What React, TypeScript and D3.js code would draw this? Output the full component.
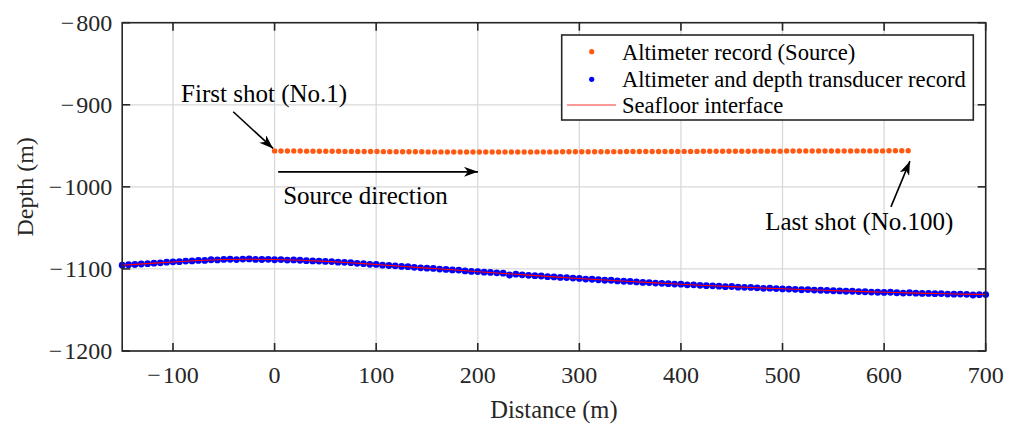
import { useEffect, useRef } from 'react';
import * as d3 from 'd3';

// x ticks / y ticks
const xTicks = [-100, 0, 100, 200, 300, 400, 500, 600, 700];
const yTicks = [-800, -900, -1000, -1100, -1200];

// Source altimeter record: 100 shots starting at 0 m, ~6.3 m apart
const shotStart = 0;
const shotStep = 6.3;
const sourceDepth = [
  -956.2, -956.3, -956.3, -956.4, -956.4, -956.5, -956.5, -956.6, -956.6, -956.7,
  -956.7, -956.8, -956.8, -956.9, -956.9, -957.0, -957.0, -957.1, -957.1, -957.2,
  -957.2, -957.3, -957.3, -957.3, -957.4, -957.4, -957.4, -957.5, -957.5, -957.5,
  -957.6, -957.6, -957.6, -957.6, -957.6, -957.6, -957.6, -957.5, -957.5, -957.5,
  -957.5, -957.4, -957.4, -957.4, -957.4, -957.3, -957.3, -957.3, -957.2, -957.2,
  -957.2, -957.2, -957.1, -957.1, -957.1, -957.0, -957.0, -957.0, -957.0, -956.9,
  -956.9, -956.9, -956.9, -956.8, -956.8, -956.8, -956.8, -956.7, -956.7, -956.7,
  -956.7, -956.6, -956.6, -956.6, -956.6, -956.5, -956.5, -956.5, -956.5, -956.5,
  -956.4, -956.4, -956.4, -956.4, -956.4, -956.3, -956.3, -956.3, -956.3, -956.3,
  -956.3, -956.2, -956.2, -956.2, -956.2, -956.2, -956.1, -956.1, -956.1, -956.0,
];

// Altimeter + depth transducer record, -150 m to 700 m every 6.25 m
const recStart = -150;
const recStep = 6.25;
const recordDepth = [
  -1095.5, -1094.8, -1094.6, -1094.0, -1093.6, -1093.0, -1092.6, -1091.8,
  -1091.4, -1091.2, -1090.4, -1090.2, -1089.6, -1089.6, -1088.8, -1089.0,
  -1088.4, -1088.2, -1088.6, -1088.0, -1087.8, -1088.4, -1088.5, -1088.3,
  -1088.8, -1088.6, -1089.2, -1089.0, -1089.4, -1089.9, -1090.2, -1090.4,
  -1090.9, -1091.0, -1091.8, -1092.0, -1092.4, -1093.2, -1093.6, -1094.4,
  -1094.5, -1095.4, -1095.8, -1096.2, -1096.9, -1097.2, -1098.0, -1098.6,
  -1099.1, -1099.4, -1100.2, -1100.6, -1101.2, -1101.4, -1102.4, -1103.0,
  -1103.2, -1104.0, -1104.3, -1104.8, -1105.2, -1107.4, -1106.4, -1107.2,
  -1107.8, -1108.2, -1108.6, -1109.4, -1109.8, -1110.4, -1110.6, -1111.2,
  -1111.6, -1112.4, -1112.6, -1113.2, -1113.8, -1113.8, -1114.6, -1115.0,
  -1115.2, -1115.8, -1116.4, -1116.6, -1117.2, -1117.6, -1118.0, -1118.4,
  -1118.6, -1119.4, -1119.4, -1120.0, -1120.4, -1120.6, -1121.0, -1121.6,
  -1121.4, -1122.2, -1122.4, -1122.6, -1123.0, -1123.6, -1123.4, -1124.0,
  -1124.4, -1124.6, -1124.8, -1125.4, -1125.2, -1125.8, -1126.0, -1126.2,
  -1126.6, -1126.8, -1127.2, -1127.2, -1127.6, -1127.8, -1128.2, -1128.4,
  -1128.6, -1128.4, -1129.0, -1129.4, -1129.0, -1129.6, -1129.8, -1129.8,
  -1130.2, -1130.0, -1130.6, -1130.8, -1130.6, -1131.0, -1131.8, -1131.4,
  -1131.2,
];

// Seafloor interface (smooth), every 25 m
const seafloorX = [
  -150, -125, -100, -75, -50, -25, 0, 25, 50, 75, 100, 125, 150, 175, 200, 225, 250, 275,
  300, 325, 350, 375, 400, 425, 450, 475, 500, 525, 550, 575, 600, 625, 650, 675, 700,
];
const seafloorDepth = [
  -1095.5, -1093.5, -1091.5, -1089.8, -1088.6, -1088.2, -1088.6, -1089.5, -1090.8, -1092.5,
  -1094.6, -1096.8, -1099.0, -1101.0, -1103.4, -1105.5, -1107.6, -1109.7, -1111.7, -1113.5,
  -1115.3, -1117.0, -1118.7, -1120.2, -1121.6, -1122.9, -1124.2, -1125.3, -1126.4, -1127.4,
  -1128.4, -1129.2, -1130.0, -1130.7, -1131.2,
];

const legendLabels = [
  'Altimeter record (Source)',
  'Altimeter and depth transducer record',
  'Seafloor interface',
];

const ORANGE = '#ff5a14';
const BLUE = '#0000ff';
const RED = '#ff0000';
const AXIS = '#262626';
const FONT = "'Liberation Serif', 'DejaVu Serif', serif";

export default function App() {
  const svgRef = useRef<SVGSVGElement | null>(null);

  useEffect(() => {
    if (!svgRef.current) return;
    const width = 1019;
    const height = 424;
    const svg = d3.select(svgRef.current);
    svg.selectAll('*').remove();
    svg.attr('width', width).attr('height', height);

    const x = d3.scaleLinear().domain([-150, 700]).range([122.2, 985.7]);
    const y = d3.scaleLinear().domain([-1200, -800]).range([351, 22.7]);
    const [x0, x1] = x.range();
    const [yb, yt] = y.range();

    // arrowhead
    const defs = svg.append('defs');
    defs.append('marker')
      .attr('id', 'arrow')
      .attr('viewBox', '0 0 14 10')
      .attr('refX', 14)
      .attr('refY', 5)
      .attr('markerWidth', 14)
      .attr('markerHeight', 10)
      .attr('markerUnits', 'userSpaceOnUse')
      .attr('orient', 'auto')
      .append('path')
      .attr('d', 'M0,0 L14,5 L0,10 L4,5 Z')
      .attr('fill', '#000');

    // grid
    const grid = svg.append('g');
    grid.selectAll('line.gx')
      .data(xTicks)
      .join('line')
      .attr('x1', d => x(d)).attr('x2', d => x(d))
      .attr('y1', yb).attr('y2', yt)
      .attr('stroke', '#d9d9d9').attr('stroke-width', 1.3);
    grid.selectAll('line.gy')
      .data(yTicks)
      .join('line')
      .attr('class', 'gy')
      .attr('x1', x0).attr('x2', x1)
      .attr('y1', d => y(d)).attr('y2', d => y(d))
      .attr('stroke', '#d9d9d9').attr('stroke-width', 1.3);

    // source dots
    svg.append('g')
      .selectAll('circle')
      .data(sourceDepth)
      .join('circle')
      .attr('cx', (d, i) => x(shotStart + i * shotStep))
      .attr('cy', d => y(d))
      .attr('r', 2.7)
      .attr('fill', ORANGE);

    // record dots
    svg.append('g')
      .selectAll('circle')
      .data(recordDepth)
      .join('circle')
      .attr('cx', (d, i) => x(recStart + i * recStep))
      .attr('cy', d => y(d))
      .attr('r', 3.4)
      .attr('fill', BLUE);

    // seafloor line
    const line = d3.line<number>()
      .x((d, i) => x(seafloorX[i]))
      .y(d => y(d))
      .curve(d3.curveMonotoneX);
    svg.append('path')
      .datum(seafloorDepth)
      .attr('fill', 'none')
      .attr('stroke', RED)
      .attr('stroke-width', 1.1)
      .attr('d', line);

    // axes box + ticks
    const ax = svg.append('g').attr('stroke', AXIS).attr('stroke-width', 1.6);
    ax.append('rect')
      .attr('x', x0).attr('y', yt)
      .attr('width', x1 - x0).attr('height', yb - yt)
      .attr('fill', 'none');
    const tl = 8;
    xTicks.forEach(t => {
      ax.append('line').attr('x1', x(t)).attr('x2', x(t)).attr('y1', yb).attr('y2', yb - tl);
      ax.append('line').attr('x1', x(t)).attr('x2', x(t)).attr('y1', yt).attr('y2', yt + tl);
    });
    yTicks.forEach(t => {
      ax.append('line').attr('x1', x0).attr('x2', x0 + tl).attr('y1', y(t)).attr('y2', y(t));
      ax.append('line').attr('x1', x1).attr('x2', x1 - tl).attr('y1', y(t)).attr('y2', y(t));
    });

    // tick labels (LaTeX-like minus, slightly spaced)
    const fmt = (v: number) => (v < 0 ? '\u2212\u200A' + Math.abs(v) : String(v));
    const labels = svg.append('g').style('font-family', FONT).attr('fill', AXIS).style('font-size', '24px');
    labels.selectAll('text.xt')
      .data(xTicks)
      .join('text')
      .attr('x', d => x(d))
      .attr('y', yb + 32)
      .attr('text-anchor', 'middle')
      .text(d => fmt(d));
    labels.selectAll('text.yt')
      .data(yTicks)
      .join('text')
      .attr('class', 'yt')
      .attr('x', x0 - 10)
      .attr('y', d => y(d) + 8)
      .attr('text-anchor', 'end')
      .text(d => fmt(d));

    // axis titles
    svg.append('text')
      .attr('x', (x0 + x1) / 2)
      .attr('y', 418)
      .attr('text-anchor', 'middle')
      .style('font-family', FONT).style('font-size', '24.5px').attr('fill', AXIS)
      .text('Distance (m)');
    svg.append('text')
      .attr('transform', `translate(33,${(yb + yt) / 2}) rotate(-90)`)
      .attr('text-anchor', 'middle')
      .style('font-family', FONT).style('font-size', '24px').attr('fill', AXIS)
      .text('Depth (m)');

    // annotations
    const ann = svg.append('g').style('font-family', FONT).style('font-size', '25px').attr('fill', '#000');
    ann.append('text').attr('x', x(-92)).attr('y', y(-896.5)).text('First shot (No.1)');
    ann.append('text').attr('x', x(8.5)).attr('y', y(-1021)).text('Source direction');
    ann.append('text').attr('x', x(483)).attr('y', y(-1053)).text('Last shot (No.100)');

    const arrows = [
      { from: [-40.7, -908.5], to: [-1.5, -953.2] },
      { from: [3.5, -981.7], to: [200.2, -981.7] },
      { from: [606.7, -1024.4], to: [625.4, -968.7] },
    ];
    svg.append('g')
      .selectAll('line')
      .data(arrows)
      .join('line')
      .attr('x1', d => x(d.from[0])).attr('y1', d => y(d.from[1]))
      .attr('x2', d => x(d.to[0])).attr('y2', d => y(d.to[1]))
      .attr('stroke', '#000').attr('stroke-width', 1.6)
      .attr('marker-end', 'url(#arrow)');

    // legend
    const lg = svg.append('g');
    lg.append('rect')
      .attr('x', 561.7).attr('y', 35)
      .attr('width', 411.6).attr('height', 85)
      .attr('fill', '#fff').attr('stroke', AXIS).attr('stroke-width', 1.6);
    lg.append('circle').attr('cx', 591.7).attr('cy', 51.7).attr('r', 2.6).attr('fill', ORANGE);
    lg.append('circle').attr('cx', 591.7).attr('cy', 79.3).attr('r', 2.6).attr('fill', BLUE);
    lg.append('line')
      .attr('x1', 567).attr('x2', 616).attr('y1', 105).attr('y2', 105)
      .attr('stroke', RED).attr('stroke-width', 0.8);
    lg.selectAll('text')
      .data(legendLabels)
      .join('text')
      .attr('x', 622)
      .attr('y', (d, i) => 60 + i * 26.5)
      .style('font-family', FONT).style('font-size', '22.6px').attr('fill', '#000')
      .text(d => d);
  }, []);

  return (
    <div style={{ position: 'absolute', left: 0, top: 0, width: 1019, height: 424, background: '#fff' }}>
      <svg ref={svgRef} style={{ display: 'block' }} />
    </div>
  );
}
